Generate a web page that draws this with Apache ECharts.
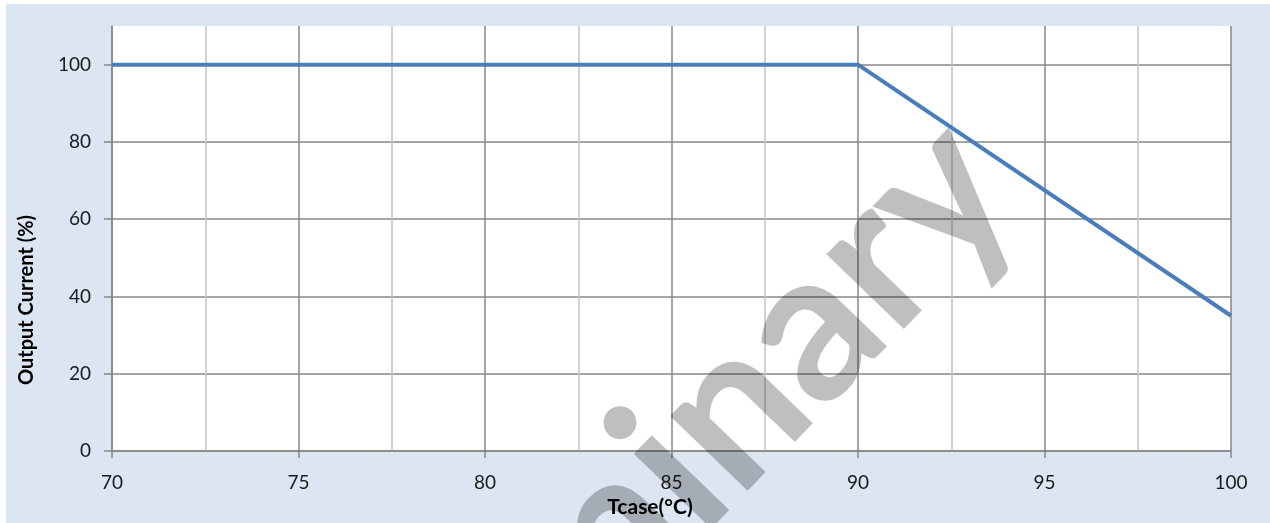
<!DOCTYPE html>
<html>
<head>
<meta charset="utf-8">
<script src="https://cdn.jsdelivr.net/npm/echarts@6/dist/echarts.min.js"></script>
<style>
html,body{margin:0;padding:0;background:#ffffff;}
#chart{width:1270px;height:523px;}
</style>
</head>
<body>
<div id="chart"></div>
<script>
// Data
var tcase = [70, 90, 100];
var outputCurrent = [100, 100, 35];
var xTicks = [70, 75, 80, 85, 90, 95, 100];
var yTicks = [0, 20, 40, 60, 80, 100];
var xTitle = 'Tcase(°C)';
var yTitle = 'Output Current (%)';
var watermark = 'Preliminary';

var points = tcase.map(function (t, i) { return [t, outputCurrent[i]]; });

var chart = echarts.init(document.getElementById('chart'));
var gridMajor = '#878787';
var deg = Math.PI / 180;

chart.setOption({
  animation: false,
  backgroundColor: '#ffffff',
  grid: {
    left: 112, right: 39, top: 26, bottom: 72,
    show: true, backgroundColor: '#ffffff', borderWidth: 0, z: 0
  },
  xAxis: {
    type: 'value', min: 70, max: 100, interval: 5,
    axisLine: { show: true, lineStyle: { color: gridMajor, width: 1.5 } },
    axisTick: { show: true, length: 7, lineStyle: { color: gridMajor, width: 1.5 } },
    axisLabel: {
      margin: 22, color: '#1a1a1a', fontFamily: 'Lato', fontSize: 19,
      formatter: function (v) { return xTicks.indexOf(v) >= 0 ? String(v) : ''; }
    },
    splitLine: { show: true, lineStyle: { color: gridMajor, width: 1.5 } },
    minorTick: { show: false, splitNumber: 2 },
    minorSplitLine: { show: true, lineStyle: { color: '#c4c4c4', width: 1.5 } }
  },
  yAxis: {
    type: 'value', min: 0, max: 110, interval: 20,
    axisLine: { show: true, lineStyle: { color: gridMajor, width: 1.5 } },
    axisTick: { show: true, length: 8, customValues: yTicks, lineStyle: { color: gridMajor, width: 1.5 } },
    axisLabel: {
      margin: 21, color: '#1a1a1a', fontFamily: 'Lato', fontSize: 19,
      customValues: yTicks,
      formatter: function (v) { return yTicks.indexOf(v) >= 0 ? String(v) : ''; }
    },
    splitLine: {
      show: true,
      lineStyle: { color: [gridMajor, gridMajor, gridMajor, gridMajor, gridMajor, gridMajor, 'rgba(0,0,0,0)'], width: 1.5 }
    }
  },
  graphic: [
    {
      type: 'rect', z: -100, silent: true,
      shape: { x: 6, y: 4, width: 1264, height: 519 },
      style: { fill: '#dce6f2' }
    },
    {
      type: 'text', z: 50, silent: true,
      x: 608, y: 538, rotation: 46 * deg,
      style: {
        x: 0, y: 0, text: watermark, align: 'center', verticalAlign: 'middle',
        font: 'bold 210px Lato', fill: 'rgba(0,0,0,0.25)'
      }
    },
    {
      type: 'text', z: 100, silent: true,
      x: 650, y: 507,
      style: {
        x: 0, y: 0, text: xTitle, align: 'center', verticalAlign: 'middle',
        font: 'bold 21px Lato', fill: '#000000'
      }
    },
    {
      type: 'text', z: 100, silent: true,
      x: 27, y: 300, rotation: 90 * deg,
      style: {
        x: 0, y: 0, text: yTitle, align: 'center', verticalAlign: 'middle',
        font: 'bold 20px Lato', fill: '#000000'
      }
    }
  ],
  series: [{
    type: 'line', data: points, showSymbol: false, z: 60,
    lineStyle: { color: '#4a7ebb', width: 4 },
    silent: true
  }]
});
</script>
</body>
</html>
